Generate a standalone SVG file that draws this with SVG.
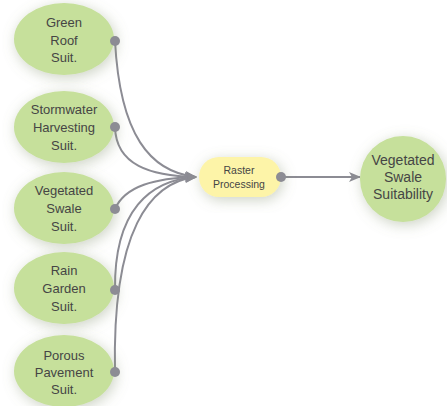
<svg xmlns="http://www.w3.org/2000/svg" width="447" height="406" viewBox="0 0 447 406">
  <style>
    .inp { fill: #c6e09b; filter: url(#glow); }
    .proc { fill: #fdf4a8; filter: url(#glow); }
    .lbl { font-family: "Liberation Sans", Arial, sans-serif; font-size: 13px; fill: #454545; text-anchor: middle; }
    .small { font-size: 10.5px; }
    .big { font-size: 14px; }
    .wire { fill: none; stroke: #8c8c94; stroke-width: 2; }
    .dot { fill: #8c8c94; }
  </style>
  <defs>
    <filter id="glow" x="-40%" y="-40%" width="180%" height="180%">
      <feDropShadow dx="2" dy="3" stdDeviation="7" flood-color="#7f8f6a" flood-opacity="0.4"/>
    </filter>
    <marker id="arrow" viewBox="0 0 12 10" refX="11" refY="5" markerWidth="12" markerHeight="10" markerUnits="userSpaceOnUse" orient="auto">
      <path d="M0,0 L12,5 L0,10 L3,5 Z" fill="#8c8c94"/>
    </marker>
  </defs>
  <rect width="447" height="406" fill="#ffffff"/>

  <g id="connectors">
    <path class="wire" d="M115,41 C120,135 150,172 196,177" marker-end="url(#arrow)"/>
    <path class="wire" d="M115,127 C116,165 150,176 196,177" marker-end="url(#arrow)"/>
    <path class="wire" d="M115,209 C125,186 155,178 196,177" marker-end="url(#arrow)"/>
    <path class="wire" d="M115,290 C114,210 150,180 196,177" marker-end="url(#arrow)"/>
    <path class="wire" d="M115,372 C112,230 150,182 196,177" marker-end="url(#arrow)"/>
    <path class="wire" d="M281,177 L360,177" marker-end="url(#arrow)"/>
  </g>

  <g id="green-roof">
    <ellipse class="inp" cx="64" cy="39" rx="50" ry="36"/>
    <text class="lbl" x="64" y="27">Green</text>
    <text class="lbl" x="64" y="45">Roof</text>
    <text class="lbl" x="64" y="62">Suit.</text>
    <circle class="dot" cx="115" cy="41" r="5"/>
  </g>
  <g id="stormwater">
    <ellipse class="inp" cx="64" cy="127" rx="50" ry="36"/>
    <text class="lbl" x="64" y="114">Stormwater</text>
    <text class="lbl" x="64" y="132">Harvesting</text>
    <text class="lbl" x="64" y="150">Suit.</text>
    <circle class="dot" cx="115" cy="127" r="5"/>
  </g>
  <g id="vegetated-swale">
    <ellipse class="inp" cx="64" cy="208" rx="50" ry="36"/>
    <text class="lbl" x="64" y="195">Vegetated</text>
    <text class="lbl" x="64" y="213">Swale</text>
    <text class="lbl" x="64" y="231">Suit.</text>
    <circle class="dot" cx="115" cy="209" r="5"/>
  </g>
  <g id="rain-garden">
    <ellipse class="inp" cx="64" cy="288" rx="50" ry="36"/>
    <text class="lbl" x="64" y="275">Rain</text>
    <text class="lbl" x="64" y="293">Garden</text>
    <text class="lbl" x="64" y="311">Suit.</text>
    <circle class="dot" cx="115" cy="290" r="5"/>
  </g>
  <g id="porous-pavement">
    <ellipse class="inp" cx="64" cy="371" rx="50" ry="36"/>
    <text class="lbl" x="64" y="360">Porous</text>
    <text class="lbl" x="64" y="377">Pavement</text>
    <text class="lbl" x="64" y="394">Suit.</text>
    <circle class="dot" cx="115" cy="372" r="5"/>
  </g>
  <g id="raster-processing">
    <rect class="proc" x="199" y="157" width="82" height="40" rx="20"/>
    <text class="lbl small" x="239" y="174">Raster</text>
    <text class="lbl small" x="239" y="188">Processing</text>
    <circle class="dot" cx="281" cy="177" r="5"/>
  </g>
  <g id="swale-suitability">
    <circle class="inp" cx="403" cy="179" r="43"/>
    <text class="lbl big" x="403" y="165">Vegetated</text>
    <text class="lbl big" x="403" y="182">Swale</text>
    <text class="lbl big" x="403" y="199">Suitability</text>
  </g>
</svg>
